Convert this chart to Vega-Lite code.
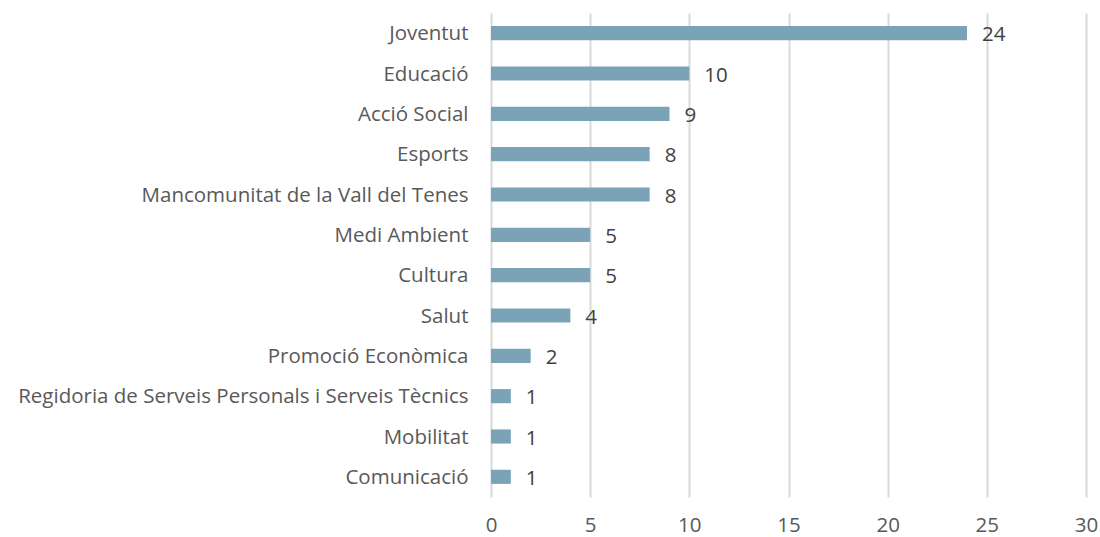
{
  "$schema": "https://vega.github.io/schema/vega-lite/v6.json",
  "width": 595,
  "height": 484,
  "autosize": {"type": "none"},
  "padding": {"left": 491, "top": 13, "right": 14, "bottom": 40},
  "background": "white",
  "config": {"view": {"stroke": null}, "font": "Open Sans"},
  "data": {"values": [
    {"cat": "Joventut", "v": 24},
    {"cat": "Educació", "v": 10},
    {"cat": "Acció Social", "v": 9},
    {"cat": "Esports", "v": 8},
    {"cat": "Mancomunitat de la Vall del Tenes", "v": 8},
    {"cat": "Medi Ambient", "v": 5},
    {"cat": "Cultura", "v": 5},
    {"cat": "Salut", "v": 4},
    {"cat": "Promoció Econòmica", "v": 2},
    {"cat": "Regidoria de Serveis Personals i Serveis Tècnics", "v": 1},
    {"cat": "Mobilitat", "v": 1},
    {"cat": "Comunicació\u00a0", "v": 1}
  ]},
  "encoding": {
    "y": {"field": "cat", "type": "nominal", "sort": null, "title": null,
      "scale": {"paddingInner": 0.65, "paddingOuter": 0.325},
      "axis": {"domain": false, "ticks": false, "grid": false, "labelPadding": 23, "labelFontSize": 20.5, "labelColor": "#595959", "labelLimit": 600, "labelOffset": 1}},
    "x": {"field": "v", "type": "quantitative", "title": null,
      "scale": {"domain": [0, 30], "nice": false},
      "axis": {"values": [0, 5, 10, 15, 20, 25, 30], "domain": false, "ticks": false, "grid": true, "gridColor": "#D9D9D9", "gridWidth": 2, "labelFlush": false, "labelPadding": 18, "labelFontSize": 20.5, "labelColor": "#595959"}}
  },
  "layer": [
    {"mark": {"type": "bar", "color": "#7BA3B8"}},
    {"mark": {"type": "text", "align": "left", "dx": 15, "dy": 2, "fontSize": 20.5, "color": "#404040"},
      "encoding": {"text": {"field": "v", "type": "quantitative"}}}
  ]
}
